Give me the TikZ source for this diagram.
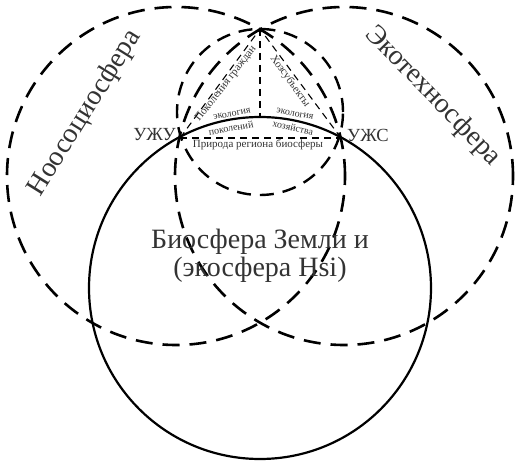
\documentclass[tikz,border=0pt]{standalone}
\usepackage{fontspec}
\setmainfont{Liberation Serif}
\begin{document}
\begin{tikzpicture}[x=1pt,y=-1pt,
  bigdash/.style={line width=2.6pt, dash pattern=on 17pt off 10pt},
  smalldash/.style={line width=2.4pt, dash pattern=on 14pt off 9pt},
  thindash/.style={line width=1.1pt, dash pattern=on 7pt off 5pt},
  solidc/.style={line width=2.2pt},
  lbl/.style={text=black!80, inner sep=0pt},
  huge/.style={lbl, font=\fontsize{28}{28}\selectfont},
  mid/.style={lbl, font=\fontsize{18.5}{20}\selectfont},
  small/.style={lbl, font=\fontsize{11}{12}\selectfont},
  tiny/.style={lbl, font=\fontsize{10}{11}\selectfont}]
\useasboundingbox (0,0) rectangle (522,462);
\coordinate (cL) at (176,176);
\coordinate (cR) at (344,176);
\coordinate (cS) at (260,288);
\coordinate (cM) at (260,112);
\coordinate (apex) at (260,29);
\coordinate (uzu) at (180,138);
\coordinate (uzs) at (341,138);
\coordinate (stop) at (260,117);
% circles
\draw[bigdash] (cL) circle[radius=169pt];
\draw[bigdash] (cR) circle[radius=169pt];
\draw[solidc] (cS) circle[radius=171pt];
\draw[smalldash] (cM) circle[radius=83pt];
% triangle
\draw[thindash] (uzu) -- (apex) -- (uzs);
\draw[thindash] (uzu) -- (uzs);
\draw[thindash] (apex) -- (stop);
% labels
\node[huge, rotate=58] (noo) at (85,113) {Ноосоциосфера};
\node[huge, rotate=-46] (eko) at (433,96) {Экотехносфера};
\node[huge, align=center] (bio) at (260,256) {Биосфера Земли и\\(экосфера Hsi)};
\node[mid, anchor=east] (tuzu) at (176,135) {УЖУ};
\node[mid, anchor=west] (tuzs) at (347,135) {УЖС};
\node[small] (prir) at (258,145) {Природа региона биосферы};
\node[small, rotate=52] (pokg) at (226,84) {Поколения граждан};
\node[small, rotate=-54] (hoz) at (290,81) {Хозсубъекты};
\node[tiny, rotate=10] (ekl) at (232,114) {экология};
\node[tiny, rotate=10] (pokl) at (231,128) {поколений};
\node[tiny, rotate=-11] (ekr) at (295,114) {экология};
\node[tiny, rotate=-12] (hozr) at (293,128) {хозяйства};
\end{tikzpicture}
\end{document}
